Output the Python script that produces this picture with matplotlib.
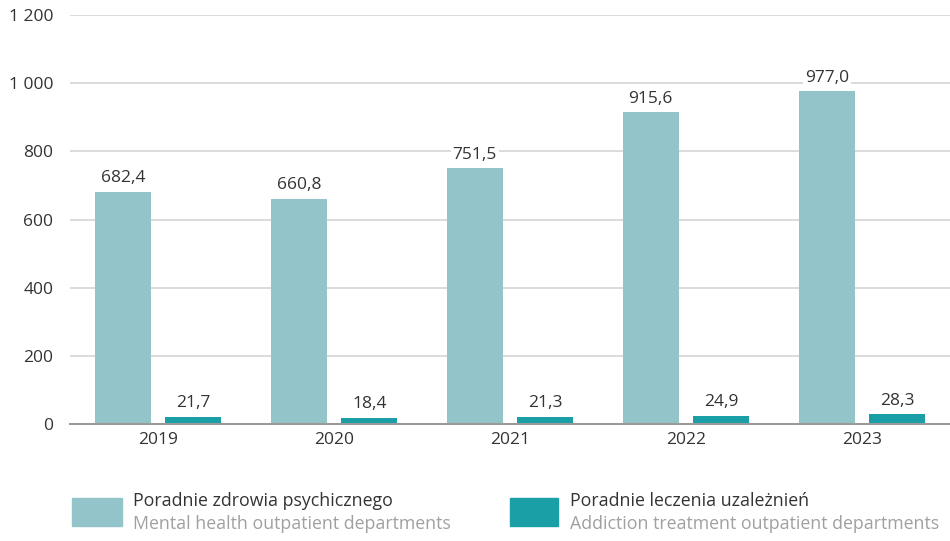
import matplotlib.pyplot as plt
from matplotlib.patches import Rectangle
import numpy as np

years = ['2019', '2020', '2021', '2022', '2023']
mental = [682.4, 660.8, 751.5, 915.6, 977.0]
addiction = [21.7, 18.4, 21.3, 24.9, 28.3]

c_mental = '#92c4c9'
c_addict = '#1b9fa7'
txt = '#333333'

plt.rcParams['font.family'] = ['Open Sans', 'DejaVu Sans']

fig = plt.figure(figsize=(9.5, 5.41), dpi=100)
ax = fig.add_axes([0.0737, 0.216, 0.9263, 0.756])

x = np.arange(len(years))
w = 0.32
ax.bar(x - 0.2, mental, w, color=c_mental, zorder=3)
ax.bar(x + 0.2, addiction, w, color=c_addict, zorder=3)


def fmt(v):
    return f'{v:.1f}'.replace('.', ',')


for xi, v in zip(x, mental):
    ax.text(xi - 0.2, v + 16, fmt(v), ha='center', va='bottom', fontsize=12.5, color=txt,
            bbox=dict(facecolor='white', edgecolor='none', pad=1.5), zorder=4)
for xi, v in zip(x, addiction):
    ax.text(xi + 0.2, v + 16, fmt(v), ha='center', va='bottom', fontsize=12.5, color=txt,
            bbox=dict(facecolor='white', edgecolor='none', pad=1.5), zorder=4)

ax.set_xlim(-0.5, 4.5)
ax.set_ylim(0, 1200)
ax.set_yticks(range(0, 1201, 200))
ax.set_yticklabels([f'{t:,}'.replace(',', ' ') for t in range(0, 1201, 200)])
ax.set_xticks(x)
ax.set_xticklabels(years)
ax.yaxis.grid(True, color='#d4d4d4', linewidth=1.2, zorder=0)
for s in ['top', 'right', 'left']:
    ax.spines[s].set_visible(False)
ax.spines['bottom'].set_color('#9a9a9a')
ax.spines['bottom'].set_linewidth(1.5)
ax.spines['bottom'].set_zorder(5)
ax.tick_params(axis='y', length=0, pad=12, labelsize=12.5, labelcolor=txt)
ax.tick_params(axis='x', length=0, pad=6, labelsize=12.5, labelcolor=txt)

# legend
fig.patches.append(Rectangle((72 / 950, 1 - 526 / 541), 50 / 950, 28 / 541,
                             transform=fig.transFigure, color=c_mental))
fig.patches.append(Rectangle((510 / 950, 1 - 526 / 541), 48 / 950, 28 / 541,
                             transform=fig.transFigure, color=c_addict))
fig.text(133 / 950, 1 - 501 / 541, 'Poradnie zdrowia psychicznego', fontsize=12.8,
         color=txt, va='center')
fig.text(133 / 950, 1 - 524 / 541, 'Mental health outpatient departments', fontsize=12.8,
         color='#a0a0a0', va='center')
fig.text(570 / 950, 1 - 501 / 541, 'Poradnie leczenia uzależnień', fontsize=12.8,
         color=txt, va='center')
fig.text(570 / 950, 1 - 524 / 541, 'Addiction treatment outpatient departments', fontsize=12.8,
         color='#a0a0a0', va='center')

fig.savefig('out.png', dpi=100)
